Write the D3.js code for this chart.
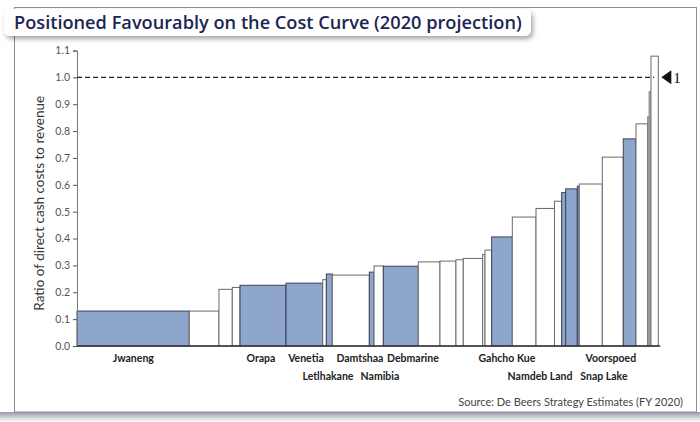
<!DOCTYPE html>
<html>
<head>
<meta charset="utf-8">
<script src="https://cdn.jsdelivr.net/npm/d3@7"></script>
<style>
  html, body { margin: 0; padding: 0; background: #ffffff; }
  svg { display: block; }
</style>
</head>
<body>
<svg id="chart" width="700" height="422"></svg>
<script>
// ---------- DATA ----------
const title = "Positioned Favourably on the Cost Curve (2020 projection)";
const yAxisTitle = "Ratio of direct cash costs to revenue";
const source = "Source: De Beers Strategy Estimates (FY 2020)";

// bar widths (share of production, cumulative along x) and ratios (height)
const barWidths = [19.33, 5.11, 2.29, 1.33, 7.92, 6.32, 0.62, 1.03, 6.37, 0.81, 1.60, 6.02,
  3.73, 2.75, 1.26, 3.34, 0.40, 1.15, 3.55, 4.08, 3.18, 1.24, 0.69, 2.00, 0.34, 3.96,
  3.61, 2.19, 2.03, 0.24, 0.31, 1.26];
const barValues = [0.130, 0.130, 0.211, 0.218, 0.226, 0.234, 0.247, 0.268, 0.264, 0.275, 0.298, 0.297,
  0.313, 0.316, 0.321, 0.326, 0.341, 0.357, 0.406, 0.480, 0.512, 0.539, 0.571, 0.585, 0.595, 0.603,
  0.703, 0.771, 0.827, 0.853, 0.946, 1.079];
// true = De Beers mine (blue)
const barDeBeers = [true, false, false, false, true, true, false, true, false, true, false, true,
  false, false, false, false, false, false, true, false, false, false, true, true, true, false,
  false, true, false, false, false, false];

const labelNames = ["Jwaneng", "Orapa", "Venetia", "Damtshaa", "Debmarine", "Gahcho Kue", "Voorspoed",
  "Letlhakane", "Namibia", "Namdeb Land", "Snap Lake"];
const labelPos = [9.69, 31.67, 39.41, 48.7, 57.83, 74.0, 91.9, 43.2, 52.15, 79.7, 90.7];
const labelRow = [0, 0, 0, 0, 0, 0, 0, 1, 1, 1, 1];

const yTicks = [0, 0.1, 0.2, 0.3, 0.4, 0.5, 0.6, 0.7, 0.8, 0.9, 1.0, 1.1];
const refLine = 1.0;
const refLabel = "1";

// ---------- LAYOUT ----------
const svg = d3.select("#chart");
const plot = { left: 77, right: 658.3, top: 50.5, bottom: 346 };
const blue = "#8ea6cb";
const ink = "#1c2553";

const cum = d3.cumsum(barWidths);
const total = cum[cum.length - 1];
const bars = barWidths.map((w, i) => ({
  x0: i === 0 ? 0 : cum[i - 1], x1: cum[i], v: barValues[i], db: barDeBeers[i]
}));

const x = d3.scaleLinear().domain([0, total]).range([plot.left, plot.right]);
const y = d3.scaleLinear().domain([0, 1.1]).range([plot.bottom, plot.top]);

// defs: shadows
const defs = svg.append("defs");
const f = defs.append("filter").attr("id", "shadow").attr("x", "-5%").attr("y", "-40%").attr("width", "115%").attr("height", "200%");
f.append("feDropShadow").attr("dx", 2).attr("dy", 3).attr("stdDeviation", 2.5).attr("flood-color", "#000").attr("flood-opacity", 0.35);
const g2 = defs.append("linearGradient").attr("id", "bottomShade").attr("x1", 0).attr("x2", 0).attr("y1", 0).attr("y2", 1);
g2.append("stop").attr("offset", "0%").attr("stop-color", "#9b9bab");
g2.append("stop").attr("offset", "100%").attr("stop-color", "#ffffff");

// frame
svg.append("rect").attr("x", 0).attr("y", 412).attr("width", 700).attr("height", 10).attr("fill", "url(#bottomShade)");
svg.append("rect").attr("x", 14.5).attr("y", 7.5).attr("width", 682).attr("height", 404.5)
  .attr("fill", "#fff").attr("stroke", "#8c8c9c").attr("stroke-width", 1);

// title box
svg.append("rect").attr("x", 4).attr("y", 9).attr("width", 527).attr("height", 27).attr("rx", 6)
  .attr("fill", "#fff").attr("filter", "url(#shadow)");
const tt = svg.append("text").attr("x", 14).attr("y", 29)
  .attr("font-family", "'Open Sans', 'Noto Sans', sans-serif").attr("font-weight", 600)
  .attr("font-size", 17).attr("fill", ink).text(title);
const tw = tt.node().getComputedTextLength();
tt.attr("font-size", 17 * 508 / tw);

// bars
svg.append("g").selectAll("rect").data(bars).join("rect")
  .attr("x", d => x(d.x0)).attr("y", d => y(d.v))
  .attr("width", d => x(d.x1) - x(d.x0)).attr("height", d => y(0) - y(d.v))
  .attr("fill", d => d.db ? blue : "#fff")
  .attr("stroke", d => d.db ? "#3a4258" : "#6a6a6a").attr("stroke-width", 1);

// y axis
const yAxis = d3.axisLeft(y).tickValues(yTicks).tickFormat(d3.format(".1f")).tickSize(4).tickPadding(3);
const ya = svg.append("g").attr("transform", `translate(${plot.left},0)`).call(yAxis);
ya.select(".domain").attr("stroke", "#777").attr("stroke-width", 1);
ya.selectAll(".tick line").attr("stroke", "#555");
ya.selectAll(".tick text").attr("font-family", "Lato, 'Open Sans', sans-serif").attr("font-size", 10.5).attr("fill", "#555");

// x axis baseline
svg.append("line").attr("x1", plot.left).attr("x2", plot.right + 2).attr("y1", y(0)).attr("y2", y(0))
  .attr("stroke", "#333").attr("stroke-width", 1.5);

// reference line at 1.0
svg.append("line").attr("x1", plot.left).attr("x2", x(cum[cum.length - 2]) + 3).attr("y1", y(refLine)).attr("y2", y(refLine))
  .attr("stroke", "#222").attr("stroke-width", 1.3).attr("stroke-dasharray", "5,3");
const ay = y(refLine);
svg.append("path").attr("d", `M${plot.right + 3},${ay} L${plot.right + 13},${ay - 7} L${plot.right + 13},${ay + 7} Z`).attr("fill", "#111");
svg.append("text").attr("x", plot.right + 15).attr("y", ay + 6).attr("font-family", "'Liberation Serif', serif")
  .attr("font-size", 15).attr("fill", "#111").text(refLabel);

// y axis title
svg.append("text").attr("transform", `translate(44,${(y(0) + y(1.1)) / 2 + 5}) rotate(-90)`)
  .attr("text-anchor", "middle").attr("font-family", "Lato, 'Open Sans', sans-serif").attr("font-size", 13.5)
  .attr("fill", "#333").text(yAxisTitle);

// category labels
svg.append("g").selectAll("text").data(labelNames).join("text")
  .attr("x", (d, i) => x(labelPos[i])).attr("y", (d, i) => 362 + labelRow[i] * 18)
  .attr("text-anchor", "middle").attr("font-family", "Lato, 'Open Sans', sans-serif").attr("font-weight", 700)
  .attr("font-size", 10.5).attr("fill", "#222").text(d => d);

// source
svg.append("text").attr("x", 683).attr("y", 406).attr("text-anchor", "end")
  .attr("font-family", "Lato, 'Open Sans', sans-serif").attr("font-size", 11).attr("fill", "#444").text(source);
</script>
</body>
</html>
